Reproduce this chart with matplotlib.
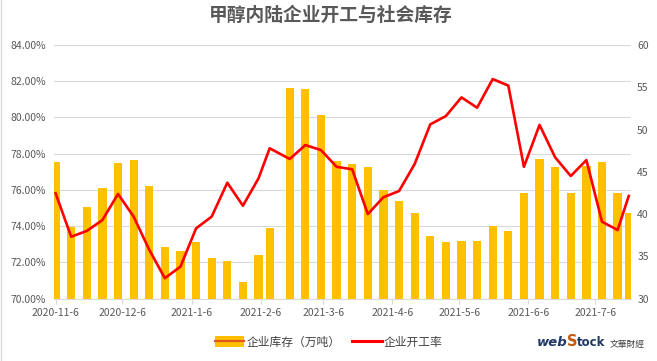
"""
甲醇内陆企业开工与社会库存
柱：企业库存（万吨，右轴）  线：企业开工率（左轴）
"""

import pandas as pd
import matplotlib
matplotlib.use('Agg')
import matplotlib.pyplot as plt
from matplotlib.patches import Rectangle
from matplotlib.lines import Line2D
from matplotlib.ticker import FuncFormatter

plt.rcParams['font.family'] = ['Noto Sans CJK SC', 'DejaVu Sans']

# 数据
dates = ['2020-11-06', '2020-11-13', '2020-11-20', '2020-11-27',
         '2020-12-04', '2020-12-11', '2020-12-18', '2020-12-25',
         '2021-01-01', '2021-01-08', '2021-01-15', '2021-01-22', '2021-01-29',
         '2021-02-05', '2021-02-10', '2021-02-19', '2021-02-26',
         '2021-03-05', '2021-03-12', '2021-03-19', '2021-03-26',
         '2021-04-02', '2021-04-09', '2021-04-16', '2021-04-23', '2021-04-30',
         '2021-05-07', '2021-05-14', '2021-05-21', '2021-05-28',
         '2021-06-04', '2021-06-11', '2021-06-18', '2021-06-25',
         '2021-07-02', '2021-07-09', '2021-07-16', '2021-07-21']

stock = [46.2, 38.5, 40.9, 43.05, 46.1, 46.4, 43.3, 36.15,
         35.6, 36.67, 34.78, 34.46, 31.94,
         35.17, 38.32, 54.95, 54.76,
         51.76, 46.3, 45.9, 45.6,
         42.9, 41.6, 40.1, 37.41, 36.67,
         36.86, 36.8, 38.63, 38.04,
         42.53, 46.52, 45.53, 42.53,
         45.69, 46.2, 42.53, 40.17]

rate = [75.82, 73.42, 73.74, 74.34, 75.78, 74.53, 72.7, 71.13,
        71.77, 73.88, 74.53, 76.4, 75.13,
        76.64, 78.3, 77.71, 78.48,
        78.2, 77.28, 77.14, 74.67,
        75.6, 75.94, 77.43, 79.62, 80.08,
        81.11, 80.54, 82.12, 81.76,
        77.28, 79.59, 77.8, 76.77,
        77.65, 74.25, 73.79, 75.67]

tick_labels = ['2020-11-6', '2020-12-6', '2021-1-6', '2021-2-6', '2021-3-6',
               '2021-4-6', '2021-5-6', '2021-6-6', '2021-7-6']

x = pd.to_datetime(dates)
ticks = pd.to_datetime(tick_labels)

GRAY = '#595959'
GRID = '#D9D9D9'

fig = plt.figure(figsize=(6.57, 3.61), dpi=100)
rect = [0.0826, 0.1726, 0.8778, 0.7027]

# 底层：网格和左轴
ax = fig.add_axes(rect)
ax.set_ylim(70, 84)
ax.set_yticks(range(70, 85, 2))
ax.yaxis.set_major_formatter(FuncFormatter(lambda v, p: f'{v:.2f}%'))
ax.grid(axis='y', color=GRID, linewidth=0.8)
ax.tick_params(axis='y', length=0, pad=6, labelsize=7.5, labelcolor=GRAY)

# 柱子：右轴
ax_bar = ax.twinx()
ax_bar.bar(x, stock, width=3.7, color='#FFC000', zorder=2)
ax_bar.set_ylim(30, 60)
ax_bar.set_yticks(range(30, 61, 5))
ax_bar.tick_params(axis='y', length=0, pad=4.5, labelsize=7.5, labelcolor=GRAY)

# 折线：左轴刻度
ax_line = ax.twinx()
ax_line.plot(x, rate, color='#FF0000', linewidth=1.9, solid_joinstyle='round')
ax_line.set_ylim(70, 84)
ax_line.set_yticks([])

xmin = x[0] - pd.Timedelta(hours=14)
xmax = x[-1] + pd.Timedelta(hours=24)
for a in (ax, ax_bar, ax_line):
    a.set_xlim(xmin, xmax)
    for s in a.spines.values():
        s.set_visible(False)
ax_bar.patch.set_visible(False)
ax_line.patch.set_visible(False)

ax.spines['bottom'].set_visible(True)
ax.spines['bottom'].set_color(GRID)
ax.spines['bottom'].set_linewidth(0.8)
ax.set_xticks(ticks)
ax.set_xticklabels(tick_labels)
ax.tick_params(axis='x', length=3.5, width=0.8, color=GRID, pad=3,
               labelsize=7.5, labelcolor=GRAY)

# 标题
fig.text(0.504, 0.958, '甲醇内陆企业开工与社会库存', ha='center', va='center',
         fontsize=13.5, color=GRAY, fontweight='bold')

# 图例
h1 = (Rectangle((0, 0), 1, 1, facecolor='#FFC000', edgecolor='none'),
      Line2D([], [], color='#E0561B', linewidth=1.6))
h2 = Line2D([], [], color='#FF0000', linewidth=2.2)
fig.legend([h1, h2], ['企业库存（万吨）', '企业开工率'], loc='center',
           bbox_to_anchor=(0.5, 0.052), ncol=2, frameon=False, fontsize=8.5,
           handlelength=2.5, handleheight=1.1, handletextpad=0.15,
           columnspacing=1.0, labelcolor='#404040')

# 水印
fig.text(0.817, 0.052, 'web', fontsize=9.5, color='#1F3864', fontweight='bold',
         style='italic', ha='left', va='center', family='DejaVu Sans')
fig.text(0.863, 0.055, 'S', fontsize=10.5, color='#C55A11', fontweight='bold',
         ha='left', va='center', family='DejaVu Sans')
fig.text(0.878, 0.052, 'tock', fontsize=8.5, color='#1F3864', fontweight='bold',
         ha='left', va='center', family='DejaVu Sans')
fig.text(0.928, 0.045, '文華財經', fontsize=6.3, color='#404040',
         ha='left', va='center')

# 左边框
fig.add_artist(Line2D([0.002, 0.002], [0, 1], color=GRID, linewidth=1))

fig.savefig('out.png', dpi=100)
